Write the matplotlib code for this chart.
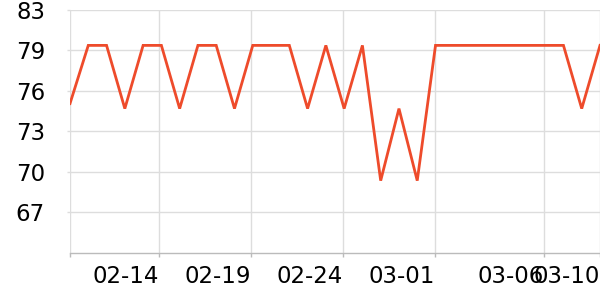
import numpy as np
import matplotlib
matplotlib.use("Agg")
import matplotlib.pyplot as plt

# daily readings (index = day)
values = [75.6, 80.2, 80.2, 75.2, 80.2, 80.2, 75.2, 80.2, 80.2, 75.2,
          80.2, 80.2, 80.2, 75.2, 80.2, 75.2, 80.2, 69.5, 75.2, 69.5,
          80.2, 80.2, 80.2, 80.2, 80.2, 80.2, 80.2, 80.2, 75.2, 80.2]
days = np.arange(len(values))

# x ticks (day position) and their labels
x_ticks = [0, 4.88, 9.92, 14.94, 19.97, 25.95, 29]
x_labels = ["", "02-14", "02-19", "02-24", "03-01", "03-06", "03-10"]

# y ticks and labels as shown on the chart
y_ticks = [67.0, 70.2, 73.4, 76.6, 79.8, 83.0]
y_labels = ["67", "70", "73", "76", "79", "83"]
y_min, y_max = 63.8, 83.0

fig = plt.figure(figsize=(6, 3), dpi=100)
ax = fig.add_axes([70 / 600, 47.3 / 300, 530 / 600, 242.7 / 300])

ax.plot(days, values, color="#ee4b2b", lw=2, solid_joinstyle="miter", clip_on=True, zorder=3)

ax.set_xlim(0, len(values) - 1)
ax.set_ylim(y_min, y_max)

ax.set_xticks(x_ticks)
ax.set_xticklabels(x_labels, ha="right")
ax.set_yticks(y_ticks)
ax.set_yticklabels(y_labels)

ax.grid(True, color="#dddddd", lw=1)
ax.set_axisbelow(True)

for side in ["left", "right", "top"]:
    ax.spines[side].set_visible(False)
ax.spines["bottom"].set_color("#bbbbbb")
ax.spines["bottom"].set_linewidth(1)

ax.tick_params(axis="x", length=3, width=1, color="#bbbbbb", pad=6, labelsize=16.5)
ax.tick_params(axis="y", length=2, width=1, color="#dddddd", pad=16, labelsize=16.5)
for lab in ax.get_xticklabels():
    lab.set_x(lab.get_position()[0])

fig.savefig("out.png", dpi=100)
